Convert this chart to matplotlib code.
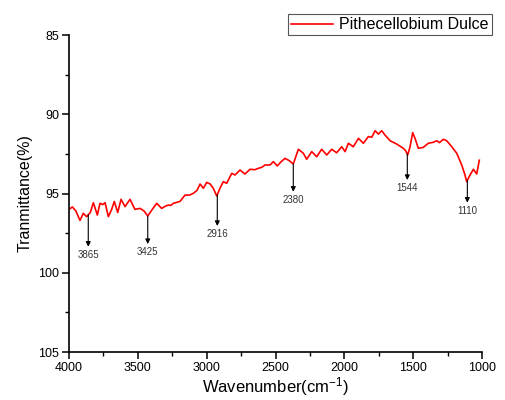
import numpy as np
import matplotlib
matplotlib.use("Agg")
import matplotlib.pyplot as plt
from matplotlib.ticker import MultipleLocator

plt.rcParams["font.family"] = ["Liberation Sans", "DejaVu Sans"]
plt.rcParams["mathtext.default"] = "regular"

# ======================================
# SPECTRUM DATA
# ======================================
wavenumber = [4000, 3975, 3950, 3920, 3896, 3872, 3845, 3823, 3794, 3775, 3755,
              3738, 3714, 3690, 3671, 3646, 3622, 3593, 3557, 3521, 3484, 3455,
              3428, 3395, 3363, 3327, 3300, 3279, 3260, 3242, 3194, 3157, 3125,
              3097, 3070, 3048, 3024, 3000, 2975, 2952, 2927, 2900, 2879, 2855,
              2818, 2794, 2758, 2722, 2685, 2650, 2625, 2600, 2576, 2540, 2516,
              2487, 2460, 2431, 2400, 2371, 2334, 2298, 2274, 2237, 2201, 2165,
              2128, 2092, 2056, 2019, 1995, 1971, 1935, 1898, 1862, 1826, 1801,
              1777, 1753, 1729, 1705, 1668, 1620, 1572, 1555, 1540, 1523, 1504,
              1487, 1463, 1427, 1390, 1354, 1329, 1310, 1281, 1257, 1220, 1184,
              1148, 1125, 1112, 1087, 1063, 1039, 1020]
transmittance = [96.0, 95.85, 96.1, 96.7, 96.25, 96.46, 96.2, 95.58, 96.36, 95.62, 95.7,
                 95.58, 96.46, 96.0, 95.5, 96.2, 95.37, 95.83, 95.37, 96.0, 95.94, 96.1,
                 96.42, 96.0, 95.62, 95.94, 95.8, 95.73, 95.75, 95.62, 95.5, 95.1, 95.1,
                 94.99, 94.8, 94.4, 94.67, 94.3, 94.4, 94.67, 95.16, 94.6, 94.25, 94.36,
                 93.73, 93.83, 93.52, 93.77, 93.47, 93.5, 93.41, 93.35, 93.2, 93.2, 92.99,
                 93.26, 93.0, 92.78, 92.93, 93.14, 92.21, 92.46, 92.84, 92.36, 92.68, 92.21,
                 92.57, 92.21, 92.43, 92.05, 92.36, 91.83, 92.05, 91.52, 91.83, 91.41, 91.45,
                 91.04, 91.25, 91.04, 91.31, 91.67, 91.88, 92.15, 92.3, 92.57, 92.05, 91.16,
                 91.52, 92.15, 92.09, 91.83, 91.77, 91.67, 91.79, 91.58, 91.67, 92.05, 92.46,
                 93.2, 93.8, 94.25, 93.83, 93.47, 93.77, 92.9]

# marked peaks
peak_wn = [3860, 3428, 2923, 2371, 1543, 1107]
peak_labels = ["3865", "3425", "2916", "2380", "1544", "1110"]
arrow_tip = [98.36, 98.19, 97.05, 94.89, 94.15, 95.58]

# ======================================
# PLOT
# ======================================
fig = plt.figure(figsize=(5.05, 4.0), dpi=100)
ax = fig.add_axes([0.1366, 0.12, 0.818, 0.7925])

ax.plot(wavenumber, transmittance, color="red", lw=1.2,
        label="Pithecellobium Dulce")

x_curve = np.array(wavenumber[::-1])
y_curve = np.array(transmittance[::-1])
for wn, lab, tip in zip(peak_wn, peak_labels, arrow_tip):
    start = np.interp(wn, x_curve, y_curve)
    ax.annotate("", xy=(wn, tip), xytext=(wn, start),
                arrowprops=dict(arrowstyle="-|>", color="black", lw=0.8,
                                mutation_scale=7, shrinkA=0, shrinkB=0))
    ax.text(wn, tip + 0.2, lab, ha="center", va="top", fontsize=7,
            color="#333333")

ax.set_xlim(4000, 1000)
ax.set_ylim(105, 85)
ax.xaxis.set_major_locator(MultipleLocator(500))
ax.xaxis.set_minor_locator(MultipleLocator(250))
ax.yaxis.set_major_locator(MultipleLocator(5))
ax.yaxis.set_minor_locator(MultipleLocator(2.5))

ax.spines["top"].set_visible(False)
ax.spines["right"].set_visible(False)
ax.spines["left"].set_linewidth(1.2)
ax.spines["bottom"].set_linewidth(1.2)
ax.tick_params(which="major", direction="out", length=5, width=1.1,
               labelsize=9, pad=2)
ax.tick_params(which="minor", direction="out", length=3, width=1.0)

ax.set_xlabel("Wavenumber(cm$^{-1}$)", fontsize=12, labelpad=1)
ax.set_ylabel("Tranmittance(%)", fontsize=11.5, labelpad=4)

leg = fig.legend(loc="upper right", bbox_to_anchor=(0.99, 0.985),
                 fontsize=11.5, fancybox=False, framealpha=1,
                 edgecolor="#555555", handlelength=2.6, borderpad=0.2,
                 handletextpad=0.4)
leg.get_frame().set_linewidth(0.8)

plt.savefig("out.png", dpi=100)
